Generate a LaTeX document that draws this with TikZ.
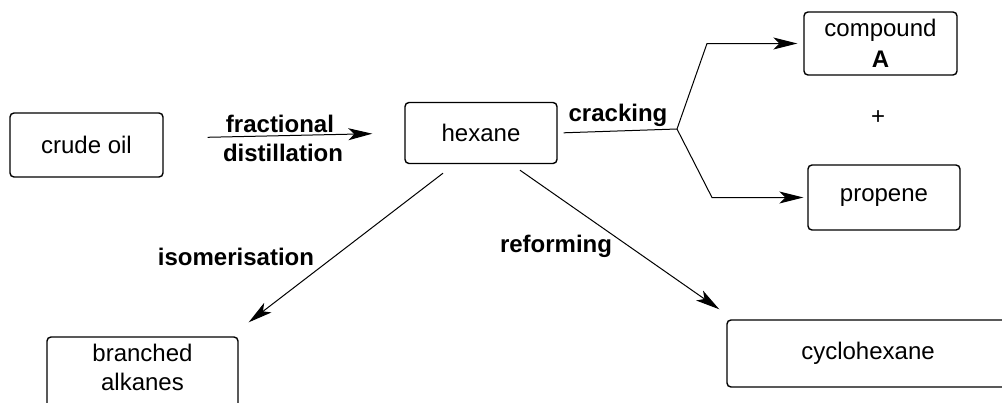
\documentclass[tikz,border=0pt]{standalone}
\usepackage{fontspec}
\setmainfont{Liberation Sans}
\usetikzlibrary{arrows.meta,calc}
\newcommand{\txtsize}{\fontsize{12}{14.5}\selectfont}
\tikzset{
  box/.style={draw, rounded corners=2pt, line width=0.7pt, inner sep=0pt, font=\txtsize, align=center},
  txt/.style={inner sep=0pt, font=\txtsize, align=center},
  lbl/.style={inner sep=0pt, font=\txtsize\bfseries, anchor=base},
  link/.style={line width=0.5pt},
  flow/.style={link, -{Stealth[length=12pt,width=6pt,inset=3pt]}}
}

\begin{document}
\begin{tikzpicture}[x=0.5pt,y=-0.5pt]
    \useasboundingbox (0,0) rectangle (1002,402);
    \node[box, minimum width=76.5pt, minimum height=32pt] (crude) at (86.5,145) {crude oil};
    \node[box, minimum width=76pt, minimum height=30.5pt] (hexane) at (481,133) {hexane};
    \node[box, minimum width=76.5pt, minimum height=31.5pt] (compound) at (880.5,43.5) {compound\\[1pt]\textbf{A}};
    \node[txt] (plus) at (878,118) {+};
    \node[box, minimum width=76pt, minimum height=32.5pt] (propene) at (884,197.5) {propene};
    \node[box, minimum width=95.5pt, minimum height=41.5pt] (branched) at (142.5,378.5) {};
    \node[txt] (branched-txt) at (142.5,367) {branched\\alkanes};
    \node[box, minimum width=141pt, minimum height=33.5pt] (cyclo) at (868,353.5) {cyclohexane};
    \node[lbl] (fract) at (280,132) {fractional};
    \node[lbl] (distil) at (283,161) {distillation};
    \node[lbl] (crack-lbl) at (618,121) {cracking};
    \node[lbl] (iso) at (236,265) {isomerisation};
    \node[lbl] (reform) at (556,252) {reforming};
    \coordinate (crack) at (677,129);
    \draw[flow, shorten <=22pt, shorten >=16pt] (crude.5) -- (hexane.west);
    \draw[link, shorten <=3pt] (hexane.east) -- (crack);
    \draw[flow, shorten >=3pt] (crack) -- ++(30,-85.5) -- (compound.west);
    \draw[flow, shorten >=2pt] (crack) -- ++(35,68.5) -- (propene.west);
    \draw[flow] ($(hexane.south)+(-38,9)$) -- ($(branched.north east)+(10,-14)$);
    \draw[flow] ($(hexane.south)+(39,6)$) -- ($(cyclo.north west)+(-7,-10)$);
\end{tikzpicture}
\end{document}
